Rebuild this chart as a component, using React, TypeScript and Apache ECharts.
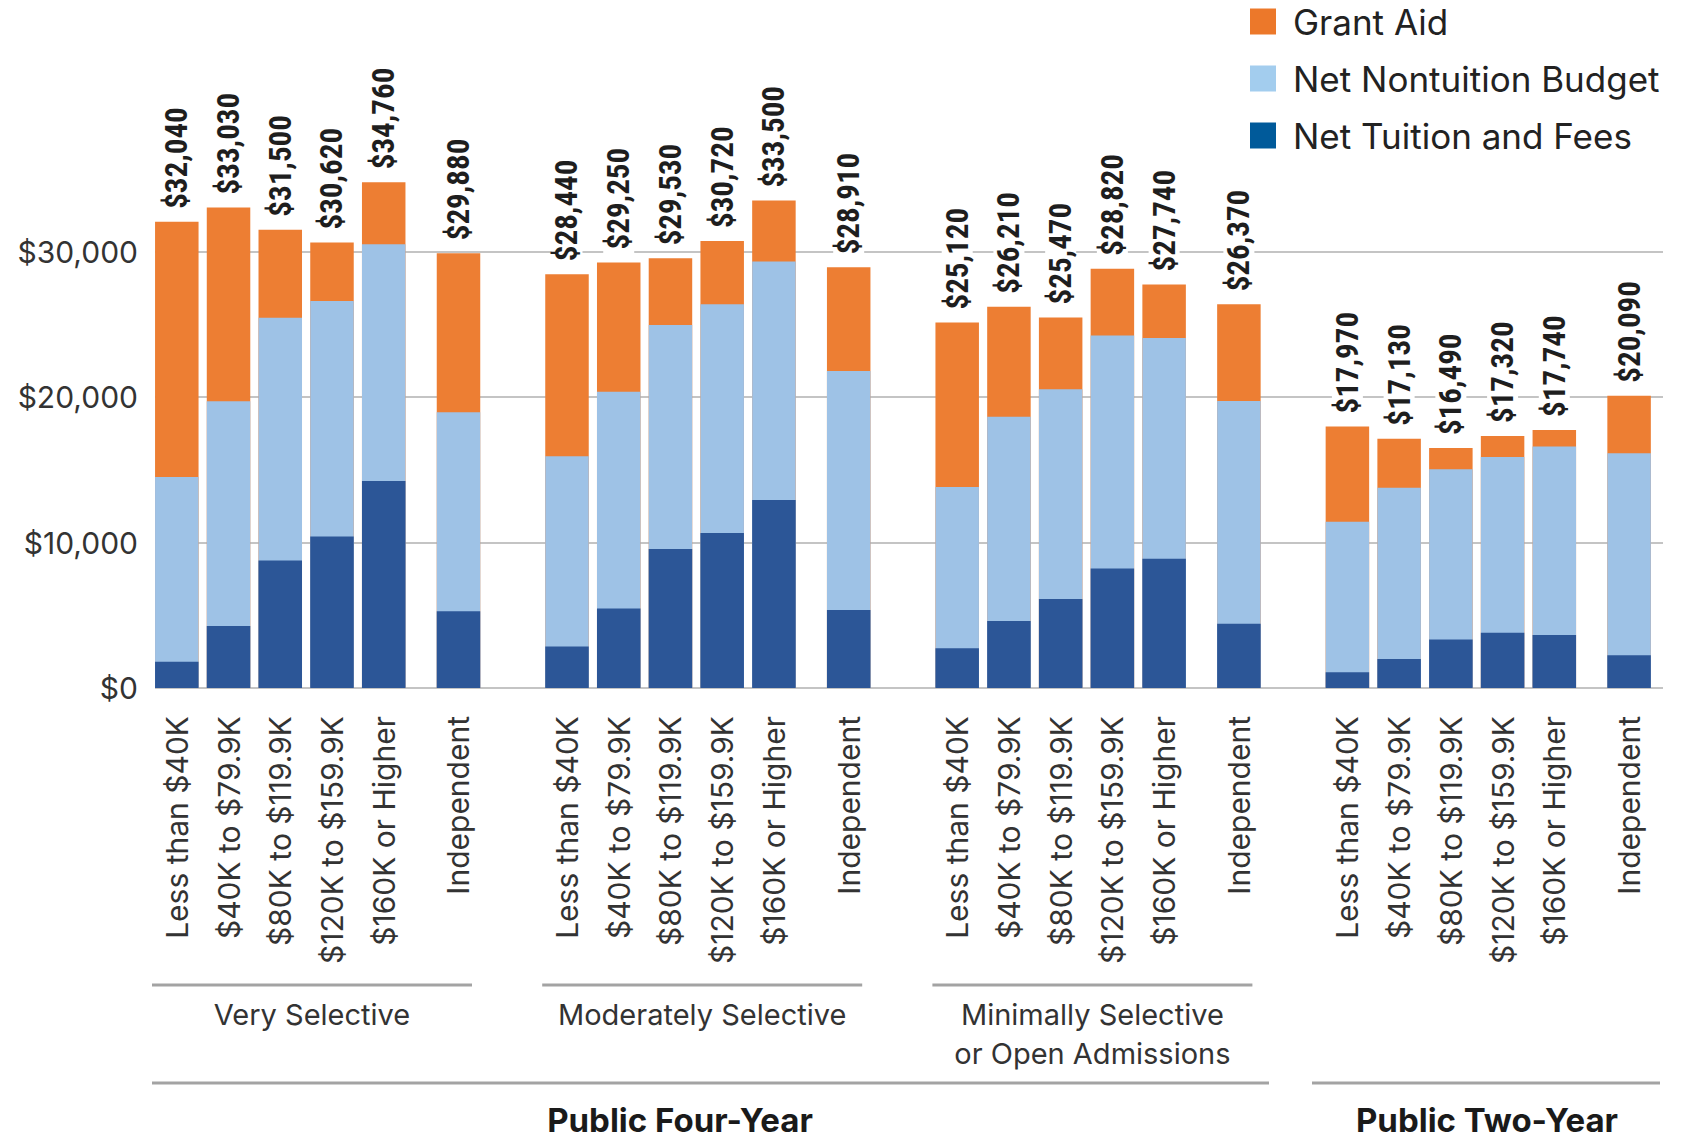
import React, { useEffect, useRef } from "react";
import * as echarts from "echarts";

// ---------- data ----------
const incomeCategories = [
  "Less than $40K",
  "$40K to $79.9K",
  "$80K to $119.9K",
  "$120K to $159.9K",
  "$160K or Higher",
  "Independent",
];
const selectivityGroups = [
  "Very Selective",
  "Moderately Selective",
  "Minimally Selective\nor Open Admissions",
  "",
];
const sectorLabels = ["Public Four-Year", "Public Two-Year"];
const yTicks = [0, 10000, 20000, 30000];

// order: Very Selective, Moderately Selective, Minimally Selective, Public Two-Year (6 each)
const netTuitionFees = [
  1800, 4260, 8770, 10420, 14220, 5270,
  2860, 5470, 9550, 10650, 12920, 5360,
  2730, 4600, 6110, 8220, 8890, 4420,
  1080, 2000, 3330, 3790, 3650, 2250,
];
const netNontuitionBudget = [
  12700, 15440, 16670, 16170, 16280, 13690,
  13060, 14890, 15390, 15730, 16390, 16420,
  11080, 14040, 14430, 16010, 15160, 15300,
  10340, 11760, 11700, 12080, 12940, 13880,
];
const grantAid = [
  17540, 13330, 6060, 4030, 4260, 10920,
  12520, 8890, 4590, 4340, 4190, 7130,
  11310, 7570, 4930, 4590, 3690, 6650,
  6550, 3370, 1460, 1450, 1150, 3960,
];

// ---------- style / layout ----------
const ORANGE = "#ED7E33";
const LIGHT = "#9EC2E6";
const DARK = "#2C5697";
const TEXT = "#333333";
const FONT = "Inter, 'Open Sans', 'Liberation Sans', sans-serif";
const COND_FONT = "'Liberation Sans Narrow', 'Roboto Condensed', 'DejaVu Sans Condensed', Roboto, sans-serif";

const INDEP_OFFSET = 5.4456; // slot units
const GROUP_STRIDE = 7.543; // slot units
const GRID_LEFT = 155;
const GRID_RIGHT_EDGE = 1663;
const X_MIN = -0.4214;
const X_MAX = 28.73;
const PX_PER_SLOT = (GRID_RIGHT_EDGE - GRID_LEFT) / (X_MAX - X_MIN);

const slotPos = (i: number) => {
  const g = Math.floor(i / 6);
  const j = i % 6;
  return g * GROUP_STRIDE + (j === 5 ? INDEP_OFFSET : j);
};
const toPx = (v: number) => GRID_LEFT + (v - X_MIN) * PX_PER_SLOT;

const fmtMoney = (v: number) => "$" + Math.round(v).toLocaleString("en-US");

export default function App() {
  const ref = useRef<HTMLDivElement>(null);

  useEffect(() => {
    if (!ref.current) return;
    const chart = echarts.init(ref.current, undefined, { renderer: "svg" });

    const n = netTuitionFees.length;
    const positions = Array.from({ length: n }, (_, i) => slotPos(i));
    const labelByPos = new Map<string, string>();
    positions.forEach((p, i) => labelByPos.set(p.toFixed(3), incomeCategories[i % 6]));

    const tuitionTop = netTuitionFees.map((v) => v);
    const nontuitionTop = netTuitionFees.map((v, i) => v + netNontuitionBudget[i]);
    const totals = netTuitionFees.map((v, i) => v + netNontuitionBudget[i] + grantAid[i]);

    const barCommon = {
      type: "bar" as const,
      barWidth: 43.5,
      barGap: "-100%",
      clip: false,
    };

    const groupStartPx = (g: number) => toPx(g * GROUP_STRIDE) - 24.8;
    const graphics: any[] = [];
    for (let g = 0; g < 3; g++) {
      const x0 = groupStartPx(g);
      graphics.push({
        type: "line",
        shape: { x1: x0, y1: 985, x2: x0 + 320, y2: 985 },
        style: { stroke: "#a3a3a3", lineWidth: 3 },
      });
      const lines = selectivityGroups[g].split("\n");
      lines.forEach((t, k) => {
        graphics.push({
          type: "text",
          x: x0 + 160,
          y: 1014 + k * 39,
          style: {
            text: t,
            font: `400 29px ${FONT}`,
            fill: TEXT,
            align: "center",
            verticalAlign: "middle",
          },
        });
      });
    }
    graphics.push({
      type: "line",
      shape: { x1: 152, y1: 1083, x2: 1269, y2: 1083 },
      style: { stroke: "#a3a3a3", lineWidth: 3 },
    });
    graphics.push({
      type: "line",
      shape: { x1: 1312, y1: 1083, x2: 1660, y2: 1083 },
      style: { stroke: "#a3a3a3", lineWidth: 3 },
    });
    graphics.push({
      type: "text",
      x: 680,
      y: 1120,
      style: {
        text: sectorLabels[0],
        font: `700 33px ${FONT}`,
        fill: "#1a1a1a",
        align: "center",
        verticalAlign: "middle",
      },
    });
    graphics.push({
      type: "text",
      x: 1487,
      y: 1120,
      style: {
        text: sectorLabels[1],
        font: `700 33px ${FONT}`,
        fill: "#1a1a1a",
        align: "center",
        verticalAlign: "middle",
      },
    });

    chart.setOption({
      animation: false,
      backgroundColor: "#ffffff",
      textStyle: { fontFamily: FONT },
      legend: {
        orient: "vertical",
        left: 1250,
        top: 4,
        padding: 0,
        itemWidth: 26,
        itemHeight: 26,
        itemGap: 22,
        icon: "rect",
        selectedMode: false,
        textStyle: {
          fontFamily: FONT,
          fontSize: 35,
          color: "#222",
          padding: [0, 0, 0, 12],
        },
        data: [
          { name: "Grant Aid", itemStyle: { color: "#EC782A" } },
          { name: "Net Nontuition Budget", itemStyle: { color: "#A3CDEE" } },
          { name: "Net Tuition and Fees", itemStyle: { color: "#005A9A" } },
        ],
      },
      grid: {
        left: GRID_LEFT,
        right: 1688 - GRID_RIGHT_EDGE,
        top: 251.5,
        bottom: 1141 - 688,
        containLabel: false,
      },
      xAxis: {
        type: "value",
        min: X_MIN,
        max: X_MAX,
        axisLine: { show: false },
        axisTick: { show: false },
        splitLine: { show: false },
        axisLabel: {
          customValues: positions,
          rotate: 90,
          margin: 28,
          fontSize: 30,
          color: TEXT,
          fontFamily: FONT,
          formatter: (v: number) => labelByPos.get(Number(v).toFixed(3)) ?? "",
        },
      },
      yAxis: {
        type: "value",
        min: 0,
        max: 30000,
        interval: 10000,
        axisLine: { show: false },
        axisTick: { show: false },
        axisLabel: {
          margin: 17,
          fontSize: 30,
          color: TEXT,
          fontFamily: FONT,
          formatter: (v: number) => (yTicks.includes(v) ? fmtMoney(v) : ""),
        },
        splitLine: { lineStyle: { color: "#c4c4c4", width: 2 } },
      },
      series: [
        {
          ...barCommon,
          name: "Grant Aid",
          itemStyle: { color: ORANGE },
          data: positions.map((x, i) => [x, totals[i]]),
          label: {
            show: true,
            position: "top",
            rotate: 90,
            align: "left",
            verticalAlign: "middle",
            distance: 9,
            padding: [0, 4, 0, 4],
            backgroundColor: "#ffffff",
            fontFamily: COND_FONT,
            fontWeight: "bold",
            fontSize: 31,
            color: "#1e1e1e",
            formatter: (p: any) => fmtMoney(p.value[1]),
          },
        },
        {
          ...barCommon,
          name: "Net Nontuition Budget",
          itemStyle: { color: LIGHT },
          data: positions.map((x, i) => [x, nontuitionTop[i]]),
        },
        {
          ...barCommon,
          name: "Net Tuition and Fees",
          itemStyle: { color: DARK },
          data: positions.map((x, i) => [x, tuitionTop[i]]),
        },
      ],
      graphic: graphics,
    });

    return () => chart.dispose();
  }, []);

  return (
    <div
      ref={ref}
      style={{ position: "absolute", left: 0, top: 0, width: 1688, height: 1141 }}
    />
  );
}
